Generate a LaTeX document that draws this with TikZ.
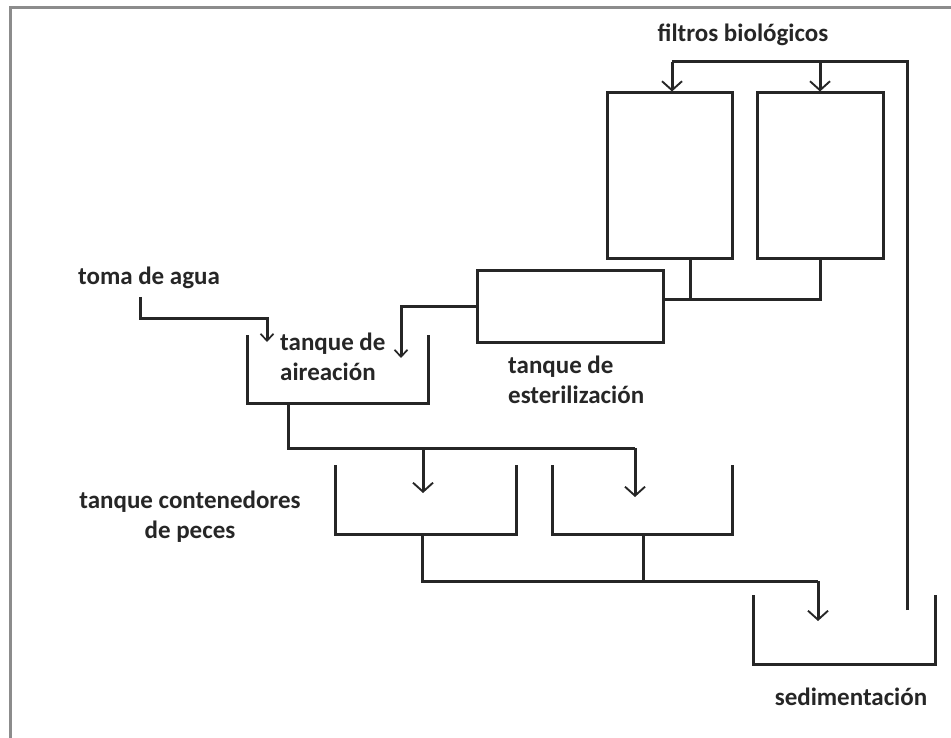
\documentclass[tikz,border=0pt]{standalone}
\usepackage{fontspec}
\setmainfont{Carlito}
\usetikzlibrary{arrows.meta}
\tikzset{
  >={Straight Barb[length=9pt,width=20pt,line width=1.9pt]},
  sm/.style={>={Straight Barb[length=7pt,width=13pt,line width=1.7pt]}},
  pipe/.style={draw=black!85,line width=3pt},
  box/.style={draw=black!85,line width=3pt,inner sep=0pt},
  lbl/.style={font=\fontsize{25}{30}\selectfont\bfseries,text=black!85,inner sep=0pt},
  frame/.style={draw=black!45,line width=3pt},
}

\begin{document}
\begin{tikzpicture}[x=1pt,y=-1pt]
\useasboundingbox (0,0) rectangle (951,738);
\draw[frame] (10,738) -- (10,8) -- (951,8);

% filters and sterilization
\node[box,minimum width=125pt,minimum height=166pt] (fA) at (669.5,176) {};
\node[box,minimum width=126pt,minimum height=166pt] (fB) at (820,176) {};
\node[box,minimum width=186pt,minimum height=71pt] (ster) at (570,306.5) {};

% open tanks
\draw[pipe] (247,335) |- (428,403) -- (428,335);
\draw[pipe] (335,465) |- (516,534) -- (516,465);
\draw[pipe] (552,465) |- (732,534) -- (732,465);
\draw[pipe] (753,595) |- (935,664) -- (935,595);

% labels
\node[lbl] (filtros) at (743,35) {filtros biológicos};
\node[lbl] (toma) at (149,278) {toma de agua};
\node[lbl,anchor=west,align=left] (aer) at (280,357) {tanque de\\aireación};
\node[lbl,anchor=west,align=left] (esterl) at (508,380) {tanque de\\esterilización};
\node[lbl,align=center] (peces) at (190,517) {tanque contenedores\\de peces};
\node[lbl] (sedim) at (851,697) {sedimentación};

% points on the pipes
\coordinate (w0) at (140,297);
\coordinate (w1) at (267,318);
\coordinate (aerIn) at (267,342);
\coordinate (aerIn2) at (401,358);
\coordinate (fa) at (690,259);
\coordinate (fj) at (663,300);
\coordinate (aerOut) at (288,403);
\coordinate (p1) at (423,448);
\coordinate (p2) at (635,448);
\coordinate (o1) at (422,534);
\coordinate (o2) at (643,534);
\coordinate (s1) at (818,581);
\coordinate (sedIn) at (818,621);
\coordinate (ret) at (907,610);
\coordinate (top) at (672,62);

% water path
\draw[pipe,sm,->] (w0) |- (w1) -- (aerIn);
\draw[pipe,sm,->] (ster.west) -| (aerIn2);
\draw[pipe] (fB.south) |- (fj);
\draw[pipe] (fa) -- (fa |- fj);
\draw[pipe] (aerOut) |- (p2);
\draw[pipe,->] (p1) -- (p1 |- 0,493);
\draw[pipe,->] (p2) -- (p2 |- 0,497);
\draw[pipe] (o1) |- (s1);
\draw[pipe] (o2) -- (o2 |- s1);
\draw[pipe,->] (s1) -- (sedIn);
\draw[pipe] (ret) |- (top);
\draw[pipe,->] (top) -- (top |- fA.north);
\draw[pipe,->] (fB.north |- top) -- (fB.north);
\end{tikzpicture}
\end{document}
